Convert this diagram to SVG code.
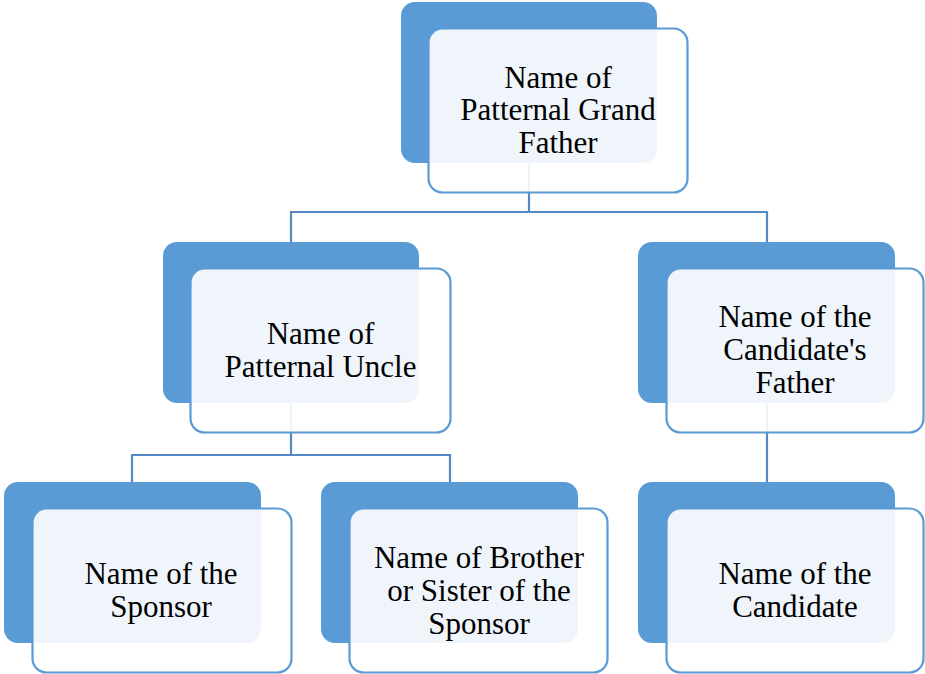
<svg xmlns="http://www.w3.org/2000/svg" width="925" height="674" viewBox="0 0 925 674">
<style>
.back{fill:#5B9BD5}
.front{fill:#FFFFFF;fill-opacity:0.9;stroke:#5B9BD5;stroke-width:2.2}
.conn{fill:none;stroke:#5689C4;stroke-width:2.2}
.t{font-family:"Liberation Serif","DejaVu Serif","Times New Roman",serif;font-size:31px;fill:#000;text-anchor:middle}
</style>
<rect width="925" height="674" fill="#FFFFFF"/>
<g id="connectors">
<path class="conn" d="M529,163 V212 M291,242 V212 H767 V242"/>
<path class="conn" d="M291,403 V455 M132,482 V455 H450 V482"/>
<path class="conn" d="M767,403 V482"/>
</g>
<g id="node-grandfather">
<rect class="back" x="401" y="2" width="256" height="161" rx="14"/>
<rect class="front" x="428.5" y="28.5" width="259" height="164" rx="14"/>
<text class="t" x="558" y="87.5">Name of</text>
<text class="t" x="558" y="120">Patternal Grand</text>
<text class="t" x="558" y="152.5">Father</text>
</g>
<g id="node-uncle">
<rect class="back" x="163" y="242" width="256" height="161" rx="14"/>
<rect class="front" x="190.5" y="268.5" width="260" height="164" rx="14"/>
<text class="t" x="320.5" y="343.5">Name of</text>
<text class="t" x="320.5" y="376.5">Patternal Uncle</text>
</g>
<g id="node-father">
<rect class="back" x="638" y="242" width="257" height="161" rx="14"/>
<rect class="front" x="666.5" y="268.5" width="257" height="164" rx="14"/>
<text class="t" x="795" y="327">Name of the</text>
<text class="t" x="795" y="360">Candidate's</text>
<text class="t" x="795" y="393">Father</text>
</g>
<g id="node-sponsor">
<rect class="back" x="4" y="482" width="257" height="161" rx="14"/>
<rect class="front" x="32.5" y="508.5" width="259" height="164" rx="14"/>
<text class="t" x="161" y="584">Name of the</text>
<text class="t" x="161" y="617">Sponsor</text>
</g>
<g id="node-sibling">
<rect class="back" x="321" y="482" width="257" height="161" rx="14"/>
<rect class="front" x="349.5" y="508.5" width="258" height="164" rx="14"/>
<text class="t" x="479" y="567.5">Name of Brother</text>
<text class="t" x="479" y="600.5">or Sister of the</text>
<text class="t" x="479" y="633.5">Sponsor</text>
</g>
<g id="node-candidate">
<rect class="back" x="638" y="482" width="257" height="161" rx="14"/>
<rect class="front" x="666.5" y="508.5" width="257" height="164" rx="14"/>
<text class="t" x="795" y="584">Name of the</text>
<text class="t" x="795" y="617">Candidate</text>
</g>
</svg>
